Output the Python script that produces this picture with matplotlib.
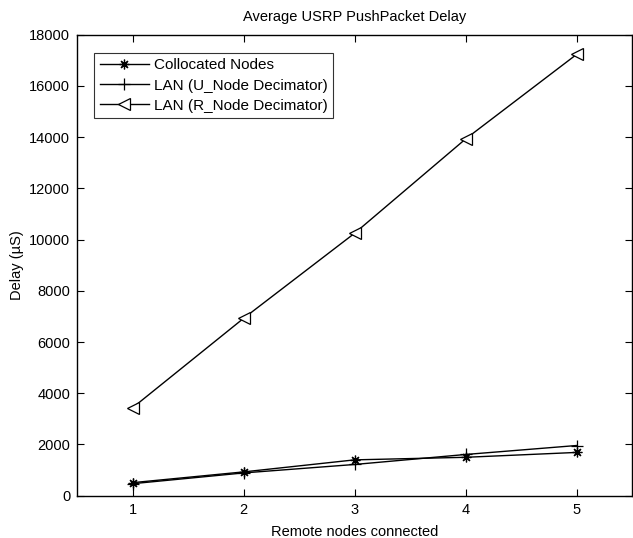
import matplotlib
matplotlib.use("Agg")
import matplotlib.pyplot as plt

plt.rcParams['font.family'] = ['Liberation Sans', 'DejaVu Sans']

x = [1, 2, 3, 4, 5]
collocated = [510, 930, 1400, 1500, 1690]
lan_u = [470, 890, 1220, 1610, 1960]
lan_r = [3440, 6930, 10250, 13930, 17230]

labels = ['Collocated Nodes', 'LAN (U_Node Decimator)', 'LAN (R_Node Decimator)']
xticks = [1, 2, 3, 4, 5]
yticks = [0, 2000, 4000, 6000, 8000, 10000, 12000, 14000, 16000, 18000]

fig = plt.figure(figsize=(6.33, 5.38), dpi=100)
ax = fig.add_axes([0.1221, 0.0786, 0.8764, 0.8569])

ax.plot(x, collocated, color='black', lw=1.0, marker=(8, 2, 0), ms=7, mew=0.9, label=labels[0])
ax.plot(x, lan_u, color='black', lw=1.0, marker='+', ms=9, mew=0.9, label=labels[1])
ax.plot(x, lan_r, color='black', lw=1.0, marker='<', ms=9, mew=0.9, mfc='white', label=labels[2])

ax.set_xlim(0.5, 5.5)
ax.set_ylim(0, 18000)
ax.set_xticks(xticks)
ax.set_yticks(yticks)
ax.tick_params(direction='in', top=True, right=True, labelsize=10.5, length=5, width=0.8, pad=5)
for s in ax.spines.values():
    s.set_linewidth(1.0)

ax.set_title('Average USRP PushPacket Delay', fontsize=10.5, pad=10)
ax.set_xlabel('Remote nodes connected', fontsize=10.5, labelpad=6)
ax.set_ylabel('Delay (\u00b5S)', fontsize=10.5, labelpad=4)

leg = ax.legend(loc='upper left', bbox_to_anchor=(0.031, 0.96), fontsize=11, frameon=True,
                fancybox=False, edgecolor='black', handlelength=3.2, handletextpad=0.35,
                borderpad=0.35, labelspacing=0.4, borderaxespad=0)
leg.get_frame().set_linewidth(0.8)

fig.savefig('out.png', dpi=100)
